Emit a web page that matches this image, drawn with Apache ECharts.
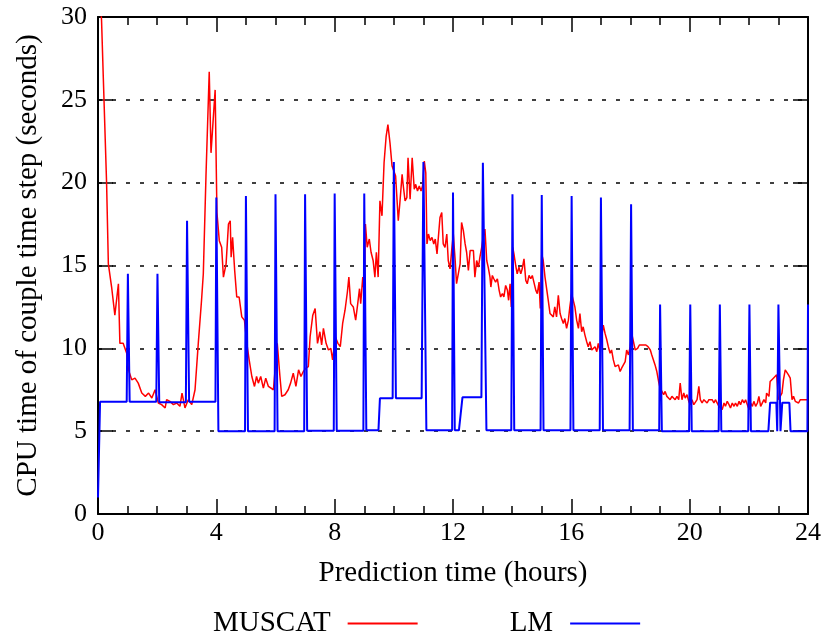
<!DOCTYPE html>
<html>
<head>
<meta charset="utf-8">
<script src="https://cdn.jsdelivr.net/npm/echarts@6/dist/echarts.min.js"></script>
<style>
html,body{margin:0;padding:0;background:#fff;}
#chart{width:827px;height:639px;}
</style>
</head>
<body>
<div id="chart"></div>
<script>
// Tick labels
const xTicks = [0, 4, 8, 12, 16, 20, 24];
const yTicks = [0, 5, 10, 15, 20, 25, 30];
const seriesNames = ['MUSCAT', 'LM'];
const xTitle = 'Prediction time (hours)';
const yTitle = 'CPU time of couple time step (seconds)';

// MUSCAT: [hours, seconds]
const muscatPoints = [
[0,33],[0.12,29.8],[0.18,26.3],[0.29,20.0],[0.35,15.1],[0.46,13.7],[0.57,12.0],[0.69,13.9],[0.74,10.3],[0.85,10.3],
[0.97,9.7],[1.03,8.7],[1.14,8.1],[1.25,8.2],[1.36,7.9],[1.48,7.3],[1.6,7.1],[1.71,7.3],[1.82,7.0],[1.93,7.5],
[2.04,6.7],[2.15,6.6],[2.27,6.4],[2.32,6.9],[2.43,6.8],[2.55,6.6],[2.66,6.7],[2.77,6.5],[2.84,7.3],[2.94,6.4],
[3.05,6.9],[3.17,6.6],[3.28,7.5],[3.39,10.3],[3.5,12.9],[3.56,14.5],[3.65,20.4],[3.76,26.7],[3.82,21.8],[3.96,25.6],
[4.02,18.2],[4.1,16.5],[4.18,16.1],[4.24,14.3],[4.33,15.1],[4.41,17.5],[4.47,17.7],[4.5,15.5],[4.55,16.7],[4.62,14.7],
[4.69,13.1],[4.77,13.1],[4.86,11.9],[4.95,11.7],[5.03,10.3],[5.11,9.3],[5.2,8.3],[5.29,7.7],[5.36,8.3],[5.42,7.9],
[5.5,8.3],[5.59,7.6],[5.67,8.2],[5.76,7.7],[5.81,7.7],[5.93,7.5],[6.06,10.3],[6.15,8.3],[6.21,7.1],[6.32,7.2],
[6.43,7.5],[6.51,7.9],[6.6,8.5],[6.69,7.7],[6.78,8.7],[6.86,8.3],[6.94,8.6],[7.03,8.8],[7.11,8.9],[7.17,10.7],
[7.26,12.0],[7.34,12.4],[7.42,10.3],[7.5,11.0],[7.56,10.2],[7.62,11.2],[7.71,10.3],[7.79,9.9],[7.87,10.0],[7.93,9.3],
[8.02,10.7],[8.11,10.3],[8.19,10.1],[8.27,11.5],[8.35,12.3],[8.43,13.4],[8.48,14.3],[8.54,12.7],[8.63,12.5],[8.71,11.7],
[8.78,12.7],[8.84,13.6],[8.88,12.7],[8.95,14.3],[9.0,13.3],[9.04,17.5],[9.1,16.1],[9.17,16.6],[9.23,15.8],[9.3,15.3],
[9.36,14.3],[9.41,15.8],[9.47,14.3],[9.53,18.9],[9.6,18.0],[9.67,21.2],[9.74,22.8],[9.8,23.5],[9.87,22.4],[9.94,21.0],
[10.0,20.9],[10.06,20.4],[10.15,17.7],[10.2,18.7],[10.28,20.5],[10.32,19.8],[10.38,18.9],[10.44,19.1],[10.48,21.5],[10.55,19.0],
[10.62,21.5],[10.69,19.6],[10.74,19.9],[10.8,19.5],[10.86,19.8],[10.92,19.5],[10.97,19.8],[11.03,21.3],[11.08,20.6],[11.12,16.3],
[11.17,16.9],[11.23,16.5],[11.29,16.7],[11.35,16.3],[11.4,16.6],[11.46,15.7],[11.52,15.7],[11.56,17.9],[11.62,18.2],[11.67,16.3],
[11.73,16.1],[11.79,16.9],[11.84,15.3],[11.9,14.8],[11.96,16.0],[12.01,16.9],[12.07,15.4],[12.12,13.9],[12.18,13.8],[12.24,15.1],
[12.29,17.6],[12.35,17.1],[12.41,16.3],[12.46,15.8],[12.52,14.7],[12.58,15.9],[12.63,16.0],[12.69,15.9],[12.74,14.3],[12.8,15.3],
[12.86,14.9],[12.91,15.5],[12.97,16.1],[13.02,16.7],[13.08,17.2],[13.14,15.3],[13.19,14.9],[13.25,14.3],[13.28,13.7],[13.33,14.4],
[13.38,14.2],[13.44,14.0],[13.5,14.2],[13.56,13.5],[13.61,13.1],[13.67,13.3],[13.72,13.1],[13.78,13.8],[13.84,13.5],[13.88,12.9],
[13.93,13.9],[13.97,12.5],[14.02,16.1],[14.06,15.7],[14.12,15.0],[14.17,14.5],[14.23,14.9],[14.29,14.5],[14.34,14.8],[14.4,15.4],
[14.46,14.1],[14.51,13.9],[14.57,14.4],[14.63,14.2],[14.68,14.4],[14.74,14.3],[14.8,13.5],[14.85,13.3],[14.91,14.0],[14.95,12.4],
[15.0,15.7],[15.05,15.3],[15.11,14.3],[15.16,14.2],[15.22,12.9],[15.28,12.1],[15.33,12.0],[15.39,11.9],[15.44,12.5],[15.5,11.9],
[15.56,13.2],[15.62,12.1],[15.67,11.8],[15.73,11.5],[15.78,11.8],[15.84,11.2],[15.9,11.7],[15.95,12.5],[16.01,13.3],[16.07,13.3],
[16.12,12.5],[16.18,11.7],[16.24,11.2],[16.29,12.1],[16.35,11.0],[16.4,11.3],[16.46,10.8],[16.52,10.4],[16.57,10.1],[16.63,10.4],
[16.69,9.9],[16.74,9.8],[16.8,10.1],[16.86,9.8],[16.91,10.3],[16.97,9.8],[17.03,10.7],[17.08,11.4],[17.14,10.9],[17.2,10.5],
[17.25,10.1],[17.31,9.7],[17.36,9.9],[17.42,9.3],[17.48,8.9],[17.53,8.8],[17.59,9.0],[17.65,8.6],[17.7,8.8],[17.76,8.7],
[17.82,9.2],[17.87,9.9],[17.93,9.6],[17.99,10.1],[18.04,10.9],[18.1,10.4],[18.16,9.9],[18.24,10.0],[18.3,10.2],[18.36,10.3],
[18.44,10.2],[18.52,10.2],[18.59,10.1],[18.67,9.9],[18.72,9.6],[18.77,9.5],[18.83,9.0],[18.89,8.6],[18.95,8.0],[19.0,7.6],
[19.06,7.7],[19.12,7.2],[19.17,7.4],[19.23,7.1],[19.29,7.2],[19.34,6.9],[19.4,7.1],[19.46,7.0],[19.51,6.9],[19.57,7.1],
[19.63,6.9],[19.68,7.9],[19.74,6.9],[19.8,7.3],[19.85,7.0],[19.91,7.2],[19.97,6.8],[20.02,6.6],[20.08,6.9],[20.14,6.6],
[20.19,6.7],[20.25,6.9],[20.31,7.7],[20.36,6.9],[20.42,6.7],[20.48,6.9],[20.53,6.8],[20.59,6.7],[20.65,6.9],[20.7,6.8],
[20.76,6.9],[20.82,6.7],[20.87,6.9],[20.93,6.8],[20.99,6.5],[21.04,6.6],[21.1,6.3],[21.16,6.7],[21.21,6.5],[21.27,6.8],
[21.33,6.6],[21.38,6.4],[21.44,6.7],[21.5,6.5],[21.55,6.7],[21.61,6.5],[21.67,6.8],[21.72,6.6],[21.78,6.9],[21.84,6.7],
[21.89,6.9],[21.95,7.0],[22.01,6.3],[22.06,6.7],[22.12,6.5],[22.17,6.8],[22.23,6.5],[22.29,6.7],[22.34,7.1],[22.4,6.5],
[22.46,6.6],[22.51,6.9],[22.57,6.7],[22.6,7.3],[22.68,7.1],[22.72,8.0],[22.78,8.1],[22.83,8.2],[22.89,8.3],[22.94,8.4],
[23.0,6.9],[23.06,6.8],[23.12,7.3],[23.17,8.1],[23.23,8.7],[23.29,8.8],[23.34,8.4],[23.4,8.2],[23.46,6.9],[23.51,7.1],
[23.57,6.8],[23.63,6.9],[23.68,6.7],[23.74,6.9],[23.8,6.8],[23.85,6.9],[23.91,7.0],[23.97,6.9]
];

// LM: [hours, seconds]
const lmPoints = [
[0,1.0],[0.07,6.78],[0.97,6.78],[1.01,14.5],[1.07,6.78],[1.97,6.78],[2.01,14.5],[2.07,6.75],[2.97,6.75],[3.01,17.7],
[3.08,6.78],[3.97,6.78],[4.0,19.1],[4.07,5.0],[4.97,5.0],[5.0,19.2],[5.07,5.0],[5.97,5.0],[6.0,19.3],[6.07,5.0],
[6.97,5.0],[7.0,19.3],[7.07,5.02],[7.97,5.02],[8.0,19.35],[8.07,5.02],[8.97,5.02],[9.0,19.35],[9.07,5.05],[9.48,5.05],
[9.53,6.98],[9.96,6.98],[10.0,21.25],[10.07,6.98],[10.94,6.98],[11.0,21.25],[11.1,5.05],[11.97,5.05],[12.0,19.4],[12.06,5.05],
[12.2,5.05],[12.32,7.04],[12.96,7.04],[13.01,21.2],[13.13,5.05],[13.97,5.05],[14.01,19.3],[14.07,5.05],[14.96,5.05],[15.0,19.25],
[15.06,5.05],[15.97,5.05],[16.01,19.2],[16.07,5.05],[16.96,5.05],[17.0,19.1],[17.07,5.05],[17.97,5.05],[18.02,18.7],[18.08,5.05],
[18.97,5.05],[19.0,12.65],[19.06,5.0],[19.98,5.0],[20.02,12.65],[20.07,5.0],[20.98,5.0],[21.02,12.65],[21.07,5.0],[21.98,5.0],
[22.02,12.65],[22.07,5.0],[22.66,5.0],[22.72,6.72],[22.93,6.72],[22.96,5.0],[23.0,12.65],[23.07,5.0],[23.13,6.72],[23.37,6.72],
[23.41,5.0],[23.98,5.0],[24.0,12.65]
];

const FONT = '"Liberation Serif", "Times New Roman", serif';
const chart = echarts.init(document.getElementById('chart'), null, {renderer: 'canvas'});

const baseX = {
  type: 'value', min: xTicks[0], max: xTicks[xTicks.length - 1], interval: 4,
  axisLine: {show: true, onZero: false, lineStyle: {color: '#000', width: 2}},
  axisTick: {show: true, inside: true, length: 15, lineStyle: {color: '#000', width: 1.5}},
  minorTick: {show: true, splitNumber: 4, length: 8, lineStyle: {color: '#000', width: 1.5}},
  splitLine: {show: false}
};
const baseY = {
  type: 'value', min: yTicks[0], max: yTicks[yTicks.length - 1], interval: 5,
  axisLine: {show: true, onZero: false, lineStyle: {color: '#000', width: 2}},
  axisTick: {show: true, inside: true, length: 15, lineStyle: {color: '#000', width: 1.5}}
};

chart.setOption({
  animation: false,
  backgroundColor: '#fff',
  grid: {left: 98, right: 19, top: 17, bottom: 125, containLabel: false},
  legend: {
    data: [{name: seriesNames[0], icon: 'rect'}, {name: seriesNames[1], icon: 'rect'}],
    left: 208, top: 604, align: 'right',
    itemWidth: 70, itemHeight: 2, itemGap: 92,
    textStyle: {fontFamily: FONT, fontSize: 29, color: '#000', padding: [0, 12, 0, 0]}
  },
  xAxis: [
    Object.assign({}, baseX, {
      position: 'bottom',
      name: xTitle, nameLocation: 'middle', nameGap: 45,
      nameTextStyle: {fontFamily: FONT, fontSize: 29, color: '#000'},
      axisLabel: {show: true, margin: 6, fontFamily: FONT, fontSize: 26, color: '#000',
        formatter: function (v) { return xTicks.indexOf(v) >= 0 ? String(v) : ''; }}
    }),
    Object.assign({}, baseX, {position: 'top', axisLabel: {show: false}})
  ],
  yAxis: [
    Object.assign({}, baseY, {
      position: 'left',
      name: yTitle, nameLocation: 'middle', nameGap: 55,
      nameTextStyle: {fontFamily: FONT, fontSize: 29, color: '#000'},
      axisLabel: {show: true, margin: 11, fontFamily: FONT, fontSize: 26, color: '#000',
        formatter: function (v) { return yTicks.indexOf(v) >= 0 ? String(v) : ''; }},
      splitLine: {show: true, lineStyle: {color: '#000', width: 1.5, type: [4, 10]}}
    }),
    Object.assign({}, baseY, {position: 'right', axisLabel: {show: false}, splitLine: {show: false}})
  ],
  series: [
    {
      name: seriesNames[0], type: 'line', xAxisIndex: 0, yAxisIndex: 0,
      data: muscatPoints, showSymbol: false, symbol: 'none', clip: true,
      lineStyle: {color: '#ff0000', width: 1.5}, itemStyle: {color: '#ff0000'}, z: 2
    },
    {
      name: seriesNames[1], type: 'line', xAxisIndex: 0, yAxisIndex: 0,
      data: lmPoints, showSymbol: false, symbol: 'none', clip: true,
      lineStyle: {color: '#0000ff', width: 2}, itemStyle: {color: '#0000ff'}, z: 3
    }
  ]
});
</script>
</body>
</html>
